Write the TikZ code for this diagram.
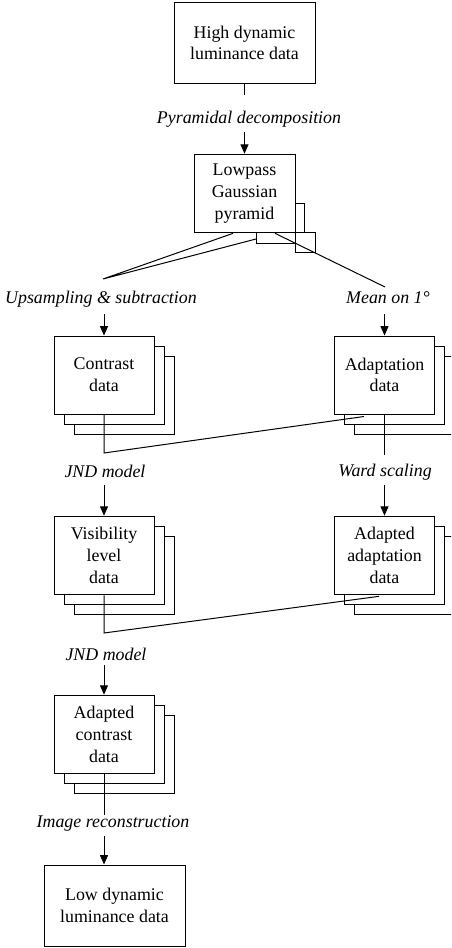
\documentclass[tikz,border=0pt]{standalone}
\usepackage{fontspec}
\setmainfont{Liberation Serif}
\usetikzlibrary{arrows.meta,shadows}
\tikzset{
  txt/.style={font=\fontsize{13.4pt}{16.3pt}\selectfont},
  frame/.style={draw=black, line width=0.75pt, fill=white},
  databox/.style={frame, txt, align=center, inner sep=0pt,
    minimum width=75pt, minimum height=59pt},
  stackbox/.style={databox,
    general shadow={shadow xshift=15pt, shadow yshift=-15pt, draw=black, line width=0.75pt, fill=white},
    general shadow={shadow xshift=7.5pt, shadow yshift=-7.5pt, draw=black, line width=0.75pt, fill=white}},
  widebox/.style={databox, minimum width=105.75pt, minimum height=60.5pt},
  lbl/.style={inner sep=0pt, font=\fontsize{13.4pt}{16.3pt}\selectfont\itshape},
  link/.style={draw=black, line width=0.75pt},
  arr/.style={link, -{Triangle[length=7pt,width=6pt]}}
}
\begin{document}
\begin{tikzpicture}[x=0.75pt, y=-0.75pt]
  \path[use as bounding box, clip] (0,0) rectangle (451,948);
  \fill[white] (0,0) rectangle (451,948);

  % source image
  \node[widebox] (hdr) at (244.5,43) {High dynamic\\luminance data};

  % Gaussian pyramid: the smaller levels peek out below the base level
  \draw[frame] (256,204) rectangle (304,244);
  \draw[frame] (295,233) rectangle (315,253);
  \node[databox, minimum width=75.75pt] (lowpass) at (244.5,193.5) {Lowpass\\Gaussian\\pyramid};

  % stacked per-level data
  \node[stackbox, minimum height=58.5pt] (contrast) at (104,375) {Contrast\\data};
  \node[stackbox, minimum height=58.5pt] (adapt) at (384.5,375) {Adaptation\\data};
  \node[stackbox] (vis) at (104,555.5) {Visibility\\level\\data};
  \node[stackbox] (adadapt) at (384.5,555.5) {Adapted\\adaptation\\data};
  \node[stackbox] (adcon) at (104,734.5) {Adapted\\contrast\\data};

  % result
  \node[widebox, minimum height=60.75pt] (low) at (114.5,905.5) {Low dynamic\\luminance data};

  % operation labels
  \node[lbl] (pyr) at (249,119.5) {Pyramidal decomposition};
  \node[lbl] (ups) at (101,299) {Upsampling \& subtraction};
  \node[lbl] (mean) at (388,298) {Mean on 1\textdegree};
  \node[lbl] (jnd1) at (105,471) {JND model};
  \node[lbl] (ward) at (385,472) {Ward scaling};
  \node[lbl] (jnd2) at (106,654) {JND model};
  \node[lbl] (rec) at (113,823) {Image reconstruction};

  % free ends of the connectors around the labels
  \coordinate (pyrIn) at (244.5,95);
  \coordinate (pyrOut) at (244.5,132);
  \coordinate (upsIn) at (103,279);
  \coordinate (upsOut) at (104,314);
  \coordinate (meanIn) at (385,287);
  \coordinate (meanOut) at (384.5,314);
  \coordinate (jnd1In) at (104,453);
  \coordinate (jnd1Out) at (104,485);
  \coordinate (wardIn) at (384.5,455);
  \coordinate (wardOut) at (384.5,485);
  \coordinate (jnd2In) at (104,633);
  \coordinate (jnd2Out) at (104,665);
  \coordinate (recIn) at (104,815);
  \coordinate (recOut) at (104,836);

  % decomposition
  \draw[link] (hdr.south) -- (pyrIn);
  \draw[arr] (pyrOut) -- (lowpass.north);

  % upsampling from two neighbouring levels
  \draw[link] ([xshift=-8.6pt]lowpass.south) -- (upsIn) -- (256,239);
  \draw[arr] (upsOut) -- (contrast.north);

  % local mean
  \draw[link] ([xshift=22.9pt]lowpass.south) -- (meanIn);
  \draw[arr] (meanOut) -- (adapt.north);

  % contrast and adaptation combined by the JND model
  \draw[link] (contrast.south) -- (jnd1In) -- ([xshift=-15.4pt,yshift=-1.5pt]adapt.south);
  \draw[arr] (jnd1Out) -- (vis.north);

  \draw[link] (adapt.south) -- (wardIn);
  \draw[arr] (wardOut) -- (adadapt.north);

  \draw[link] (vis.south) -- (jnd2In) -- ([xshift=-4.1pt,yshift=-0.75pt]adadapt.south);
  \draw[arr] (jnd2Out) -- (adcon.north);

  % reconstruction
  \draw[link] (adcon.south) -- (recIn);
  \draw[arr] (recOut) -- (low.north -| recOut);
\end{tikzpicture}
\end{document}
